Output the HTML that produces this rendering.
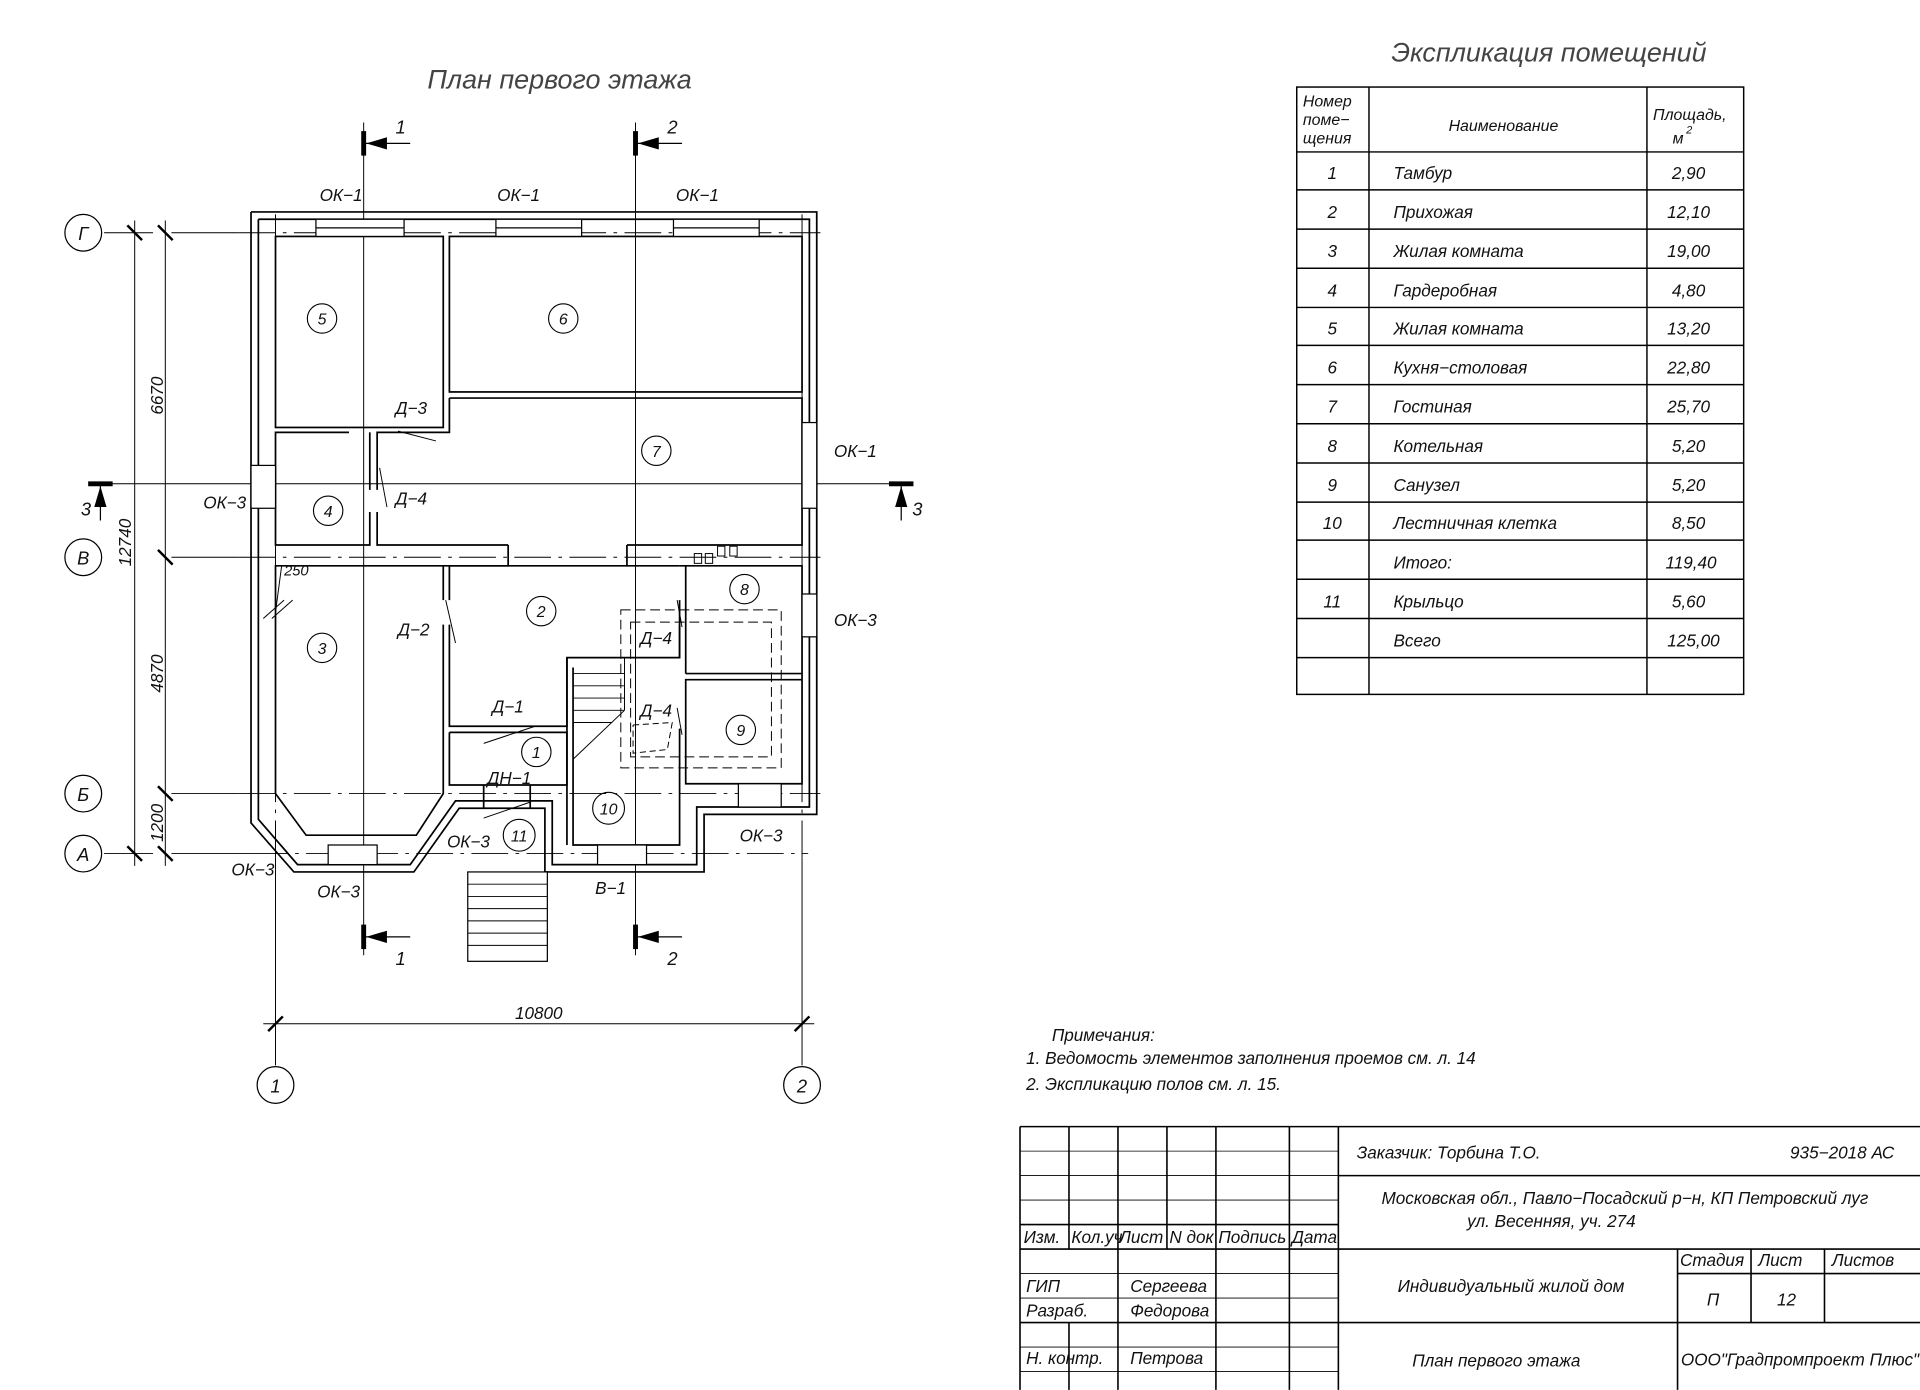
<!DOCTYPE html>
<html><head><meta charset="utf-8"><style>
html,body{margin:0;padding:0;background:#fff}
svg{display:block}
text{font-family:"Liberation Sans","DejaVu Sans",sans-serif;font-style:italic;fill:#111}
</style></head><body>
<svg width="1920" height="1390" viewBox="0 0 1568 1135" xmlns="http://www.w3.org/2000/svg">
<rect width="1568" height="1135" fill="#fff"/>
<text x="457" y="72" font-size="22" text-anchor="middle" style="fill:#444">План  первого  этажа</text>
<text x="1265" y="50" font-size="22" text-anchor="middle" style="fill:#444">Экспликация  помещений</text>

<g stroke="#000" stroke-width="0.8" fill="none">
<line x1="140" y1="190" x2="195" y2="190"/><line x1="140" y1="455" x2="195" y2="455"/>
<line x1="140" y1="648" x2="195" y2="648"/><line x1="140" y1="697" x2="205" y2="697"/>
<line x1="85" y1="190" x2="125" y2="190"/><line x1="85" y1="697" x2="125" y2="697"/>
<g stroke-dasharray="30,6,3,6">
<line x1="195" y1="190" x2="670" y2="190"/><line x1="195" y1="455" x2="670" y2="455"/>
<line x1="195" y1="648" x2="670" y2="648"/><line x1="205" y1="697" x2="660" y2="697"/>
<line x1="225" y1="175" x2="225" y2="700"/><line x1="655" y1="175" x2="655" y2="700"/>
</g>
<line x1="225" y1="700" x2="225" y2="870"/><line x1="655" y1="700" x2="655" y2="870"/>
<line x1="110" y1="180" x2="110" y2="707"/><line x1="135" y1="180" x2="135" y2="707"/>
<line x1="215" y1="836" x2="665" y2="836"/>
<line x1="297" y1="100" x2="297" y2="780"/><line x1="519" y1="100" x2="519" y2="780"/>
<line x1="80" y1="395" x2="735" y2="395"/>
</g>
<g stroke="#000" stroke-width="2">
<line x1="104" y1="184" x2="116" y2="196"/><line x1="104" y1="691" x2="116" y2="703"/>
<line x1="129" y1="184" x2="141" y2="196"/><line x1="129" y1="449" x2="141" y2="461"/>
<line x1="129" y1="642" x2="141" y2="654"/><line x1="129" y1="691" x2="141" y2="703"/>
<line x1="219" y1="842" x2="231" y2="830"/><line x1="649" y1="842" x2="661" y2="830"/>
</g>
<g font-size="14">
<text transform="translate(133,323) rotate(-90)" text-anchor="middle">6670</text>
<text transform="translate(133,550) rotate(-90)" text-anchor="middle">4870</text>
<text transform="translate(133,672) rotate(-90)" text-anchor="middle">1200</text>
<text transform="translate(107,443) rotate(-90)" text-anchor="middle">12740</text>
<text x="440" y="832" text-anchor="middle">10800</text>
</g>
<g stroke="#000" fill="#fff" stroke-width="1">
<circle cx="68" cy="190" r="15"/><circle cx="68" cy="455" r="15"/>
<circle cx="68" cy="648" r="15"/><circle cx="68" cy="697" r="15"/>
<circle cx="225" cy="886" r="15"/><circle cx="655" cy="886" r="15"/>
</g>
<g font-size="15" text-anchor="middle">
<text x="68" y="196">Г</text><text x="68" y="461">В</text><text x="68" y="654">Б</text><text x="68" y="703">А</text>
<text x="225" y="892">1</text><text x="655" y="892">2</text>
</g>
<g stroke="#000" stroke-width="4">
<line x1="297" y1="107" x2="297" y2="127"/><line x1="519" y1="107" x2="519" y2="127"/>
<line x1="297" y1="755" x2="297" y2="775"/><line x1="519" y1="755" x2="519" y2="775"/>
<line x1="72" y1="395" x2="92" y2="395"/><line x1="726" y1="395" x2="746" y2="395"/>
</g>
<g stroke="#000" stroke-width="1">
<line x1="297" y1="117" x2="335" y2="117"/><line x1="519" y1="117" x2="557" y2="117"/>
<line x1="297" y1="765" x2="335" y2="765"/><line x1="519" y1="765" x2="557" y2="765"/>
<line x1="82" y1="395" x2="82" y2="425"/><line x1="736" y1="395" x2="736" y2="425"/>
</g>
<g fill="#000">
<polygon points="299,117 316,112 316,122"/><polygon points="521,117 538,112 538,122"/>
<polygon points="299,765 316,760 316,770"/><polygon points="521,765 538,760 538,770"/>
<polygon points="82,397 77,414 87,414"/><polygon points="736,397 731,414 741,414"/>
</g>
<g font-size="15"><text x="323" y="109">1</text><text x="545" y="109">2</text>
<text x="323" y="788">1</text><text x="545" y="788">2</text>
<text x="66" y="421">3</text><text x="745" y="421">3</text></g>

<g stroke="#000" stroke-width="1.4" fill="none">
<polyline points="205,173 667,173 667,665 575,665 575,712 445,712 445,660 375,660 338,712 240,712 205,672 205,173"/>
<polyline points="211,179 661,179 661,659 569,659 569,706 451,706 451,654 372,654 335,706 243,706 211,669 211,179"/>
<rect x="225" y="193" width="137" height="156"/>
<rect x="367" y="193" width="288" height="127"/>
<polyline points="367,325 655,325 655,445 512,445"/>
<polyline points="415,445 308,445 308,418"/><polyline points="308,400 308,353 367,353 367,325"/>
<polyline points="302,418 302,445 225,445 225,353 285,353"/><polyline points="302,400 302,353"/>
<polyline points="415,445 415,462 367,462 362,462 225,462 225,648 250,682 340,682 362,648 362,510"/>
<line x1="362" y1="490" x2="362" y2="462"/>
<polyline points="367,490 367,462 512,462 512,445"/>
<polyline points="367,510 367,593 463,593 463,537 555,537 555,490"/>
<polyline points="555,462 512,462"/><polyline points="555,462 655,462 655,640 560,640 560,555 655,555"/>
<polyline points="560,550 655,550"/><polyline points="560,550 560,462"/>
<polyline points="555,510 555,537"/><polyline points="555,595 555,690 468,690 468,545"/>
<polyline points="367,598 463,598 463,641 367,641 367,598"/>
<line x1="463" y1="537" x2="463" y2="690"/>
<polyline points="395,641 395,660"/><polyline points="433,641 433,660"/>
</g>
<g stroke="#000" stroke-width="1" fill="#fff">
<rect x="258" y="179" width="72" height="14"/><rect x="405" y="179" width="70" height="14"/><rect x="550" y="179" width="70" height="14"/>
<line x1="258" y1="186" x2="330" y2="186"/><line x1="405" y1="186" x2="475" y2="186"/><line x1="550" y1="186" x2="620" y2="186"/>
<rect x="655" y="345" width="12" height="70"/><rect x="655" y="485" width="12" height="35"/>
<rect x="205" y="380" width="20" height="35"/>
<rect x="268" y="690" width="40" height="16"/><rect x="488" y="690" width="40" height="16"/>
<rect x="603" y="640" width="35" height="19"/>
<rect x="382" y="712" width="65" height="73"/>
</g>
<g stroke="#000" stroke-width="0.8" fill="none">
<line x1="382" y1="722" x2="447" y2="722"/><line x1="382" y1="732" x2="447" y2="732"/><line x1="382" y1="742" x2="447" y2="742"/>
<line x1="382" y1="752" x2="447" y2="752"/><line x1="382" y1="762" x2="447" y2="762"/><line x1="382" y1="772" x2="447" y2="772"/>
<line x1="468" y1="550" x2="510" y2="550"/><line x1="468" y1="560" x2="510" y2="560"/><line x1="468" y1="570" x2="510" y2="570"/>
<line x1="468" y1="580" x2="510" y2="580"/><line x1="468" y1="590" x2="500" y2="590"/>
<line x1="510" y1="537" x2="510" y2="580"/><line x1="510" y1="580" x2="468" y2="620"/>
<line x1="325" y1="352" x2="356" y2="360"/><line x1="310" y1="382" x2="316" y2="414"/>
<line x1="364" y1="490" x2="372" y2="525"/><line x1="395" y1="607" x2="437" y2="593"/>
<line x1="395" y1="668" x2="433" y2="655"/><line x1="553" y1="490" x2="557" y2="512"/>
<line x1="553" y1="578" x2="557" y2="600"/>
<polyline points="517,592 549,590 545,612 517,615 517,592" stroke-dasharray="5,3"/>
<rect x="507" y="498" width="131" height="129" stroke-dasharray="8,4"/>
<rect x="515" y="508" width="115" height="110" stroke-dasharray="8,4"/>
<rect x="567" y="452" width="6" height="8"/><rect x="576" y="452" width="6" height="8"/>
<rect x="586" y="446" width="6" height="8"/><rect x="596" y="446" width="6" height="8"/>
<line x1="215" y1="505" x2="232" y2="490"/><line x1="222" y1="505" x2="239" y2="490"/>
<polyline points="225,500 230,462 268,462"/>
</g>
<g stroke="#000" fill="none" stroke-width="0.9">
<circle cx="263" cy="260" r="12"/><circle cx="460" cy="260" r="12"/><circle cx="536" cy="368" r="12"/>
<circle cx="268" cy="417" r="12"/><circle cx="263" cy="529" r="12"/><circle cx="442" cy="499" r="12"/>
<circle cx="608" cy="481" r="12"/><circle cx="605" cy="596" r="12"/><circle cx="438" cy="614" r="12"/>
<circle cx="497" cy="660" r="13"/><circle cx="424" cy="682" r="13"/>
</g>
<g font-size="13" text-anchor="middle">
<text x="263" y="265">5</text><text x="460" y="265">6</text><text x="536" y="373">7</text>
<text x="268" y="422">4</text><text x="263" y="534">3</text><text x="442" y="504">2</text>
<text x="608" y="486">8</text><text x="605" y="601">9</text><text x="438" y="619">1</text>
<text x="497" y="665">10</text><text x="424" y="687">11</text>
</g>
<g font-size="14">
<text x="261" y="164">ОК−1</text><text x="406" y="164">ОК−1</text><text x="552" y="164">ОК−1</text>
<text x="681" y="373">ОК−1</text><text x="166" y="415">ОК−3</text><text x="681" y="511">ОК−3</text>
<text x="323" y="338">Д−3</text><text x="323" y="412">Д−4</text><text x="325" y="519">Д−2</text>
<text x="402" y="582">Д−1</text><text x="398" y="640">ДН−1</text><text x="523" y="526">Д−4</text><text x="523" y="585">Д−4</text>
<text x="365" y="692">ОК−3</text><text x="189" y="715">ОК−3</text><text x="259" y="733">ОК−3</text>
<text x="486" y="730">В−1</text><text x="604" y="687">ОК−3</text>
<text x="232" y="470" font-size="12">250</text>
</g>

<g stroke="#000" stroke-width="1.2" fill="none">
<rect x="1059" y="71" width="365" height="496"/>
<line x1="1118" y1="71" x2="1118" y2="567"/><line x1="1345" y1="71" x2="1345" y2="567"/>
<line x1="1059" y1="124" x2="1424" y2="124"/><line x1="1059" y1="155" x2="1424" y2="155"/>
<line x1="1059" y1="187" x2="1424" y2="187"/><line x1="1059" y1="219" x2="1424" y2="219"/>
<line x1="1059" y1="251" x2="1424" y2="251"/><line x1="1059" y1="282" x2="1424" y2="282"/>
<line x1="1059" y1="314" x2="1424" y2="314"/><line x1="1059" y1="346" x2="1424" y2="346"/>
<line x1="1059" y1="378" x2="1424" y2="378"/><line x1="1059" y1="410" x2="1424" y2="410"/>
<line x1="1059" y1="441" x2="1424" y2="441"/><line x1="1059" y1="473" x2="1424" y2="473"/>
<line x1="1059" y1="505" x2="1424" y2="505"/><line x1="1059" y1="537" x2="1424" y2="537"/>
</g>
<g font-size="13">
<text x="1064" y="87">Номер</text><text x="1064" y="102">поме−</text><text x="1064" y="117">щения</text>
<text x="1183" y="107">Наименование</text>
<text x="1350" y="98">Площадь,</text><text x="1366" y="117">м</text><text x="1377" y="109" font-size="9">2</text>
</g>
<g font-size="14">
<g text-anchor="middle">
<text x="1088" y="146">1</text><text x="1088" y="178">2</text><text x="1088" y="210">3</text><text x="1088" y="242">4</text>
<text x="1088" y="273">5</text><text x="1088" y="305">6</text><text x="1088" y="337">7</text><text x="1088" y="369">8</text>
<text x="1088" y="401">9</text><text x="1088" y="432">10</text><text x="1088" y="496">11</text>
<text x="1379" y="146">2,90</text><text x="1379" y="178">12,10</text><text x="1379" y="210">19,00</text><text x="1379" y="242">4,80</text>
<text x="1379" y="273">13,20</text><text x="1379" y="305">22,80</text><text x="1379" y="337">25,70</text><text x="1379" y="369">5,20</text>
<text x="1379" y="401">5,20</text><text x="1379" y="432">8,50</text><text x="1381" y="464">119,40</text><text x="1379" y="496">5,60</text>
<text x="1383" y="528">125,00</text>
</g>
<text x="1138" y="146">Тамбур</text><text x="1138" y="178">Прихожая</text><text x="1138" y="210">Жилая комната</text>
<text x="1138" y="242">Гардеробная</text><text x="1138" y="273">Жилая комната</text><text x="1138" y="305">Кухня−столовая</text>
<text x="1138" y="337">Гостиная</text><text x="1138" y="369">Котельная</text><text x="1138" y="401">Санузел</text>
<text x="1138" y="432">Лестничная клетка</text><text x="1138" y="464">Итого:</text><text x="1138" y="496">Крыльцо</text>
<text x="1138" y="528">Всего</text>
</g>

<g font-size="14">
<text x="859" y="850">Примечания:</text>
<text x="838" y="869">1. Ведомость элементов заполнения проемов см. л. 14</text>
<text x="838" y="890">2. Экспликацию полов см. л. 15.</text>
</g>

<g stroke="#000" stroke-width="1.3" fill="none">
<line x1="833" y1="920" x2="1568" y2="920"/>
<line x1="833" y1="920" x2="833" y2="1135"/>
<line x1="873" y1="920" x2="873" y2="1020"/><line x1="873" y1="1080" x2="873" y2="1135"/>
<line x1="913" y1="920" x2="913" y2="1135"/><line x1="953" y1="920" x2="953" y2="1020"/>
<line x1="993" y1="920" x2="993" y2="1135"/><line x1="1053" y1="920" x2="1053" y2="1135"/>
<line x1="1093" y1="920" x2="1093" y2="1135"/>
<line x1="1093" y1="960" x2="1568" y2="960"/><line x1="833" y1="1020" x2="1568" y2="1020"/>
<line x1="1093" y1="1080" x2="1568" y2="1080"/>
<line x1="1370" y1="1020" x2="1370" y2="1135"/><line x1="1430" y1="1020" x2="1430" y2="1080"/>
<line x1="1490" y1="1020" x2="1490" y2="1080"/><line x1="1370" y1="1040" x2="1568" y2="1040"/>
<line x1="833" y1="1000" x2="1093" y2="1000"/><line x1="833" y1="1080" x2="1093" y2="1080"/>
</g>
<g stroke="#000" stroke-width="0.7">
<line x1="833" y1="940" x2="1093" y2="940"/><line x1="833" y1="960" x2="1093" y2="960"/>
<line x1="833" y1="980" x2="1093" y2="980"/><line x1="833" y1="1040" x2="1093" y2="1040"/>
<line x1="833" y1="1060" x2="1093" y2="1060"/><line x1="833" y1="1100" x2="1093" y2="1100"/>
<line x1="833" y1="1120" x2="1093" y2="1120"/>
</g>
<g font-size="14">
<text x="836" y="1015">Изм.</text><text x="875" y="1015">Кол.уч</text><text x="914" y="1015">Лист</text>
<text x="955" y="1015">N док</text><text x="995" y="1015">Подпись</text><text x="1055" y="1015">Дата</text>
<text x="838" y="1055">ГИП</text><text x="923" y="1055">Сергеева</text>
<text x="838" y="1075">Разраб.</text><text x="923" y="1075">Федорова</text>
<text x="838" y="1114">Н. контр.</text><text x="923" y="1114">Петрова</text>
<text x="1108" y="946">Заказчик: Торбина Т.О.</text><text x="1547" y="946" text-anchor="end">935−2018 АС</text>
<text x="1327" y="983" text-anchor="middle">Московская обл., Павло−Посадский р−н, КП Петровский луг</text>
<text x="1267" y="1002" text-anchor="middle">ул. Весенняя, уч. 274</text>
<text x="1234" y="1055" text-anchor="middle">Индивидуальный жилой дом</text>
<text x="1222" y="1116" text-anchor="middle">План первого этажа</text>
<text x="1372" y="1034">Стадия</text><text x="1436" y="1034">Лист</text><text x="1496" y="1034">Листов</text>
<text x="1399" y="1066" text-anchor="middle">П</text><text x="1459" y="1066" text-anchor="middle">12</text>
<text x="1470" y="1115" text-anchor="middle">ООО"Градпромпроект Плюс"</text>
</g>
</svg>
</body></html>
